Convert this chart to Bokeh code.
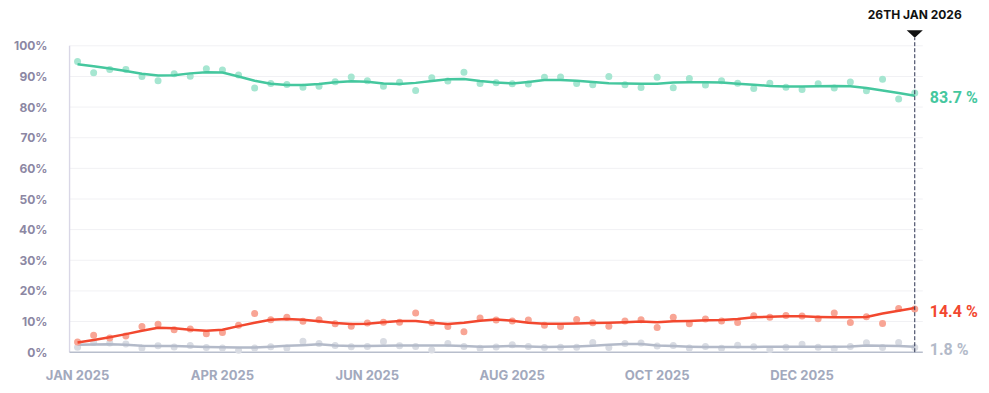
from bokeh.plotting import figure
from bokeh.models import FixedTicker, Label, ColumnDataSource
from bokeh.embed import file_html
from bokeh.resources import INLINE

# ---- data (weekly polls, index 0 = first week of Jan 2025, last = 26th Jan 2026)
week = list(range(53))

green_pts = [94.9, 91.2, 92.3, 92.3, 90.0, 88.6, 90.9, 90.1, 92.5, 92.1, 90.5, 86.2, 87.7, 87.4, 86.5, 86.8, 88.3, 89.8,
             88.6, 86.8, 88.1, 85.4, 89.6, 88.5, 91.4, 87.7, 87.9, 87.6, 87.5, 89.7, 89.8, 87.7, 87.3, 90.0, 87.3, 86.4,
             89.7, 86.3, 89.3, 87.2, 88.6, 87.8, 86.1, 87.8, 86.5, 85.7, 87.6, 86.2, 88.2, 85.3, 89.1, 82.6, 84.6]
green_trend = [94.0, 93.3, 92.6, 91.8, 90.9, 90.3, 90.4, 91.0, 91.4, 91.3, 90.0, 88.6, 87.6, 87.2, 87.2, 87.5, 88.1, 88.4,
               88.3, 87.7, 87.5, 87.9, 88.5, 89.1, 89.2, 88.5, 88.0, 87.7, 88.2, 88.8, 88.8, 88.6, 88.2, 87.8, 87.7, 87.6,
               87.6, 88.0, 88.1, 88.1, 88.0, 87.6, 87.3, 86.9, 86.7, 86.7, 86.8, 86.9, 86.8, 86.2, 85.4, 84.6, 83.7]

red_pts = [3.3, 5.5, 4.6, 5.3, 8.4, 9.1, 7.3, 7.6, 6.0, 6.4, 8.8, 12.6, 10.6, 11.4, 10.1, 10.6, 9.3, 8.5,
           9.5, 9.8, 9.8, 12.8, 9.7, 8.4, 6.7, 11.2, 10.5, 10.2, 10.5, 8.8, 8.4, 10.7, 9.6, 8.5, 10.2, 10.6,
           8.1, 11.4, 9.3, 10.8, 10.2, 9.7, 11.9, 11.4, 12.0, 11.8, 10.9, 12.8, 9.7, 11.6, 9.4, 14.3, 14.1]
red_trend = [3.2, 4.0, 4.9, 5.9, 7.0, 8.0, 7.8, 7.3, 7.0, 7.3, 8.5, 9.6, 10.6, 10.8, 10.6, 10.1, 9.5, 9.2,
             9.3, 9.8, 10.2, 10.2, 9.6, 9.2, 9.6, 10.3, 10.7, 10.3, 9.6, 9.3, 9.3, 9.4, 9.5, 9.6, 9.8, 10.0,
             9.8, 10.1, 10.2, 10.4, 10.5, 10.8, 11.4, 11.6, 11.7, 11.7, 11.5, 11.4, 11.4, 11.5, 12.6, 13.5, 14.4]

grey_pts = [1.6, 3.2, 3.0, 2.7, 1.4, 2.1, 1.7, 2.2, 1.5, 1.4, 0.6, 1.4, 1.8, 1.4, 3.6, 2.8, 2.2, 1.8,
            1.9, 3.5, 2.1, 1.9, 0.7, 2.8, 1.9, 1.3, 1.7, 2.4, 1.9, 1.5, 1.6, 1.6, 3.2, 1.5, 2.8, 3.0,
            2.0, 2.2, 1.4, 1.9, 1.3, 2.3, 1.8, 0.9, 1.6, 2.6, 1.6, 1.1, 1.9, 3.1, 1.5, 3.2, 1.5]
grey_trend = [2.4, 2.5, 2.6, 2.4, 2.1, 2.0, 2.0, 1.9, 1.7, 1.6, 1.5, 1.5, 1.8, 2.1, 2.3, 2.6, 2.2, 2.0,
              2.0, 2.1, 2.2, 2.2, 2.2, 2.2, 2.0, 1.8, 1.9, 2.0, 1.9, 1.7, 1.8, 1.9, 2.1, 2.4, 2.7, 2.7,
              2.2, 2.0, 1.8, 1.7, 1.7, 1.7, 1.7, 1.8, 1.8, 1.8, 1.8, 1.8, 1.9, 2.2, 2.1, 2.0, 1.8]

x_tick_pos = [0, 9, 18, 27, 36, 45]
x_tick_labels = ["JAN 2025", "APR 2025", "JUN 2025", "AUG 2025", "OCT 2025", "DEC 2025"]
y_ticks = [0, 10, 20, 30, 40, 50, 60, 70, 80, 90, 100]
y_tick_labels = ["0%", "10%", "20%", "30%", "40%", "50%", "60%", "70%", "80%", "90%", "100%"]
end_label = "26TH JAN 2026"

GREEN, RED, GREY = "#45c79e", "#f2482f", "#b3bac9"
GREEN_PT, RED_PT, GREY_PT = "#a6e6d1", "#f8a595", "#d9dce3"
FONT = "Inter"

# ---- layout constants (pixels)
W, H = 985, 390
LEFT, BOTTOM = 68, 33
PX_X = 16.1      # pixels per week
PX_Y = 3.064     # pixels per percentage point
frame_w, frame_h = W - LEFT, H - BOTTOM
x0 = -0.5 - 1 / PX_X
y0 = -5.3 / PX_Y

src = ColumnDataSource(dict(x=week, g=green_pts, gt=green_trend, r=red_pts, rt=red_trend,
                            k=grey_pts, kt=grey_trend))

p = figure(width=W, height=H, output_backend="svg", toolbar_location=None,
           x_range=(x0, x0 + frame_w / PX_X), y_range=(y0, y0 + frame_h / PX_Y),
           min_border_left=LEFT, min_border_right=0, min_border_top=0, min_border_bottom=BOTTOM)
p.outline_line_color = None
p.background_fill_color = "white"
p.border_fill_color = "white"
p.grid.grid_line_color = None

first, last = week[0], week[-1]
xl, xr = first - 0.5, last + 0.5

# y axis (labels only; line drawn as a glyph so it stops at 100%)
p.yaxis.ticker = FixedTicker(ticks=y_ticks)
p.yaxis.major_label_overrides = {t: l for t, l in zip(y_ticks, y_tick_labels)}
p.yaxis.axis_line_color = None
p.yaxis.major_tick_line_color = None
p.yaxis.minor_tick_line_color = None
p.yaxis.major_label_standoff = 15
p.yaxis.major_label_text_font = FONT
p.yaxis.major_label_text_font_style = "bold"
p.yaxis.major_label_text_font_size = "12px"
p.yaxis.major_label_text_color = "#8c87a3"

# x axis
p.xaxis.ticker = FixedTicker(ticks=x_tick_pos)
p.xaxis.major_label_overrides = {t: l for t, l in zip(x_tick_pos, x_tick_labels)}
p.xaxis.axis_line_color = None
p.xaxis.major_tick_line_color = None
p.xaxis.minor_tick_line_color = None
p.xaxis.major_label_standoff = 3
p.xaxis.major_label_text_font = FONT
p.xaxis.major_label_text_font_style = "bold"
p.xaxis.major_label_text_font_size = "13px"
p.xaxis.major_label_text_color = "#a2a9bd"

# grid lines and axis lines
gy = y_ticks[1:]
p.segment(x0=[xl] * len(gy), y0=gy, x1=[xr] * len(gy), y1=gy, line_color="#f1f1f4", line_width=1)
p.segment(x0=[xl], y0=[y_ticks[0]], x1=[xl], y1=[y_ticks[-1]], line_color="#d9d7e6", line_width=1.5)
p.segment(x0=[xl], y0=[y_ticks[0]], x1=[xr], y1=[y_ticks[0]], line_color="#b8becc", line_width=1.5)

# series
for pts, trend, lc, pc in [("k", "kt", GREY, GREY_PT), ("r", "rt", RED, RED_PT), ("g", "gt", GREEN, GREEN_PT)]:
    p.scatter("x", pts, source=src, size=7, fill_color=pc, line_color=None)
    p.line("x", trend, source=src, line_color=lc, line_width=2.5, line_join="round")

# marker of the latest date
tip = y_ticks[-1] + 8 / PX_Y
top = tip + 7.5 / PX_Y
p.segment(x0=[last], y0=[y_ticks[0]], x1=[last], y1=[tip], line_color="#2b3250", line_width=1,
          line_dash="4 2")
p.patch(x=[last - 0.5, last + 0.5, last], y=[top, top, tip], fill_color="#111111", line_color=None)
p.add_layout(Label(x=last, y=top + 15.5 / PX_Y, text=end_label, text_align="center",
                   text_baseline="middle", text_font=FONT, text_font_style="bold",
                   text_font_size="12px", text_color="#111111"))

# end values
for val, col, dy in [(green_trend[-1], GREEN, 1.5), (red_trend[-1], RED, 3.5), (grey_trend[-1], GREY, 2.5)]:
    p.add_layout(Label(x=last, y=val - dy / PX_Y, x_offset=15, text=f"{val:.1f} %", text_align="left",
                       text_baseline="middle", text_font="Roboto", text_font_style="bold",
                       text_font_size="16px", text_color=col))

open("out.html", "w").write(file_html(p, INLINE))
